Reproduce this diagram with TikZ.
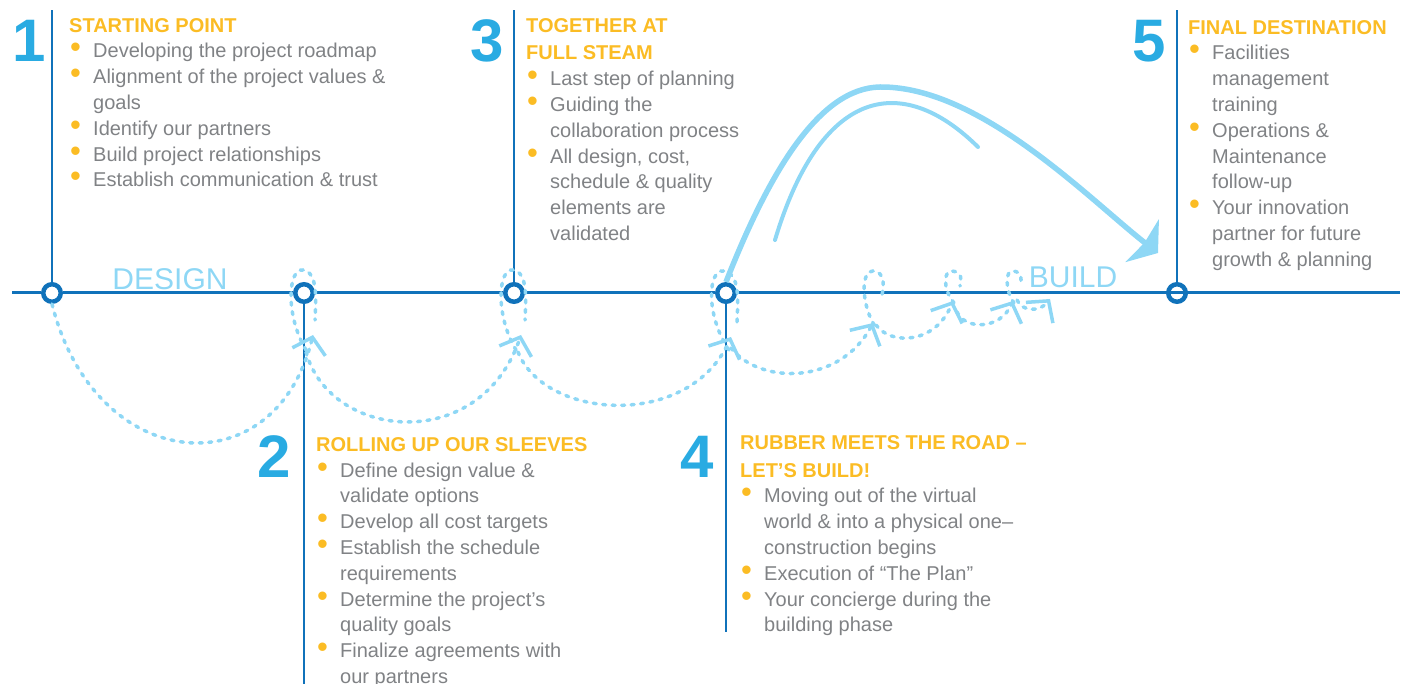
\documentclass[tikz,border=0pt]{standalone}
\usepackage{fontspec}
\setmainfont{Liberation Sans}
\usepackage{tikz}
\usetikzlibrary{arrows.meta}
\usepackage{xcolor}

\definecolor{axisblue}{RGB}{16,114,186}
\definecolor{numblue}{RGB}{41,171,226}
\definecolor{dotyel}{RGB}{251,188,36}
\definecolor{txtgray}{RGB}{128,130,133}
\definecolor{pathblue}{RGB}{142,215,245}

\newcommand{\bul}{\makebox[24pt][l]{\hspace{1pt}\smash{\color{dotyel}\fontsize{31}{0}\selectfont\textbullet}}}
\newcommand{\ind}{\hspace*{24pt}}
\newcommand{\hd}[1]{\rule{0pt}{16pt}{\bfseries\color{dotyel}#1}}

\tikzset{
 stop/.style={circle,draw=axisblue,fill=white,line width=4.5pt,minimum size=17.5pt,inner sep=0pt},
 stem/.style={axisblue,line width=2.5pt},
 num/.style={anchor=base,text=numblue,font=\fontsize{60}{60}\selectfont\bfseries,inner sep=0pt},
 block/.style={anchor=north west,align=left,inner sep=0pt,text=txtgray,font=\fontsize{20}{25.8}\selectfont},
 phaselabel/.style={anchor=base,text=pathblue,font=\fontsize{30}{30}\selectfont,inner sep=0pt},
 trail/.style={pathblue,line width=3.5pt,line cap=round,dash pattern=on 3pt off 6.5pt},
 chev/.style={-{Straight Barb[length=15pt,width=34pt,line width=3.5pt]}}
}

\begin{document}
\begin{tikzpicture}[x=1pt,y=-1pt]
 \useasboundingbox (0,0) rectangle (1406,684);

 % stops on the time line
 \node[stop] (s1) at (52,293) {};
 \node[stop] (s2) at (304,293) {};
 \node[stop] (s3) at (514,293) {};
 \node[stop] (s4) at (726,293) {};
 \node[stop,fill=none] (s5) at (1177,293) {};

 \coordinate (ax0) at (12,293);
 \coordinate (ax1) at (1400,293);
 \draw[stem,line width=3pt] (ax0)--(s1);
 \draw[stem,line width=3pt] (s1)--(s2);
 \draw[stem,line width=3pt] (s2)--(s3);
 \draw[stem,line width=3pt] (s3)--(s4);
 \draw[stem,line width=3pt] (s4)--(ax1);

 \coordinate (t1) at (52,10);
 \coordinate (t2) at (304,684);
 \coordinate (t3) at (514,10);
 \coordinate (t4) at (726,632);
 \coordinate (t5) at (1177,10);
 \draw[stem] (s1.north)--(t1);
 \draw[stem] (s2.south)--(t2);
 \draw[stem] (s3.north)--(t3);
 \draw[stem] (s4.south)--(t4);
 \draw[stem] (s5.north)--(t5);

 % numbers
 \node[num] (n1) at (29,62) {1};
 \node[num] (n2) at (274,478) {2};
 \node[num] (n3) at (487,62) {3};
 \node[num] (n4) at (697,477) {4};
 \node[num] (n5) at (1149,62) {5};

 % texts
 \node[block] (b1) at (69,16) {\hd{STARTING POINT}\\
  \bul Developing the project roadmap\\
  \bul Alignment of the project values \&\\
  \ind goals\\
  \bul Identify our partners\\
  \bul Build project relationships\\
  \bul Establish communication \& trust};

 \node[block] (b2) at (316,435) {\hd{ROLLING UP OUR SLEEVES}\\
  \bul Define design value \&\\
  \ind validate options\\
  \bul Develop all cost targets\\
  \bul Establish the schedule\\
  \ind requirements\\
  \bul Determine the project’s\\
  \ind quality goals\\
  \bul Finalize agreements with\\
  \ind our partners};

 \node[block] (b3) at (526,16) {\hd{TOGETHER AT}\\[2pt]
  \hd{FULL STEAM}\\
  \bul Last step of planning\\
  \bul Guiding the\\
  \ind collaboration process\\
  \bul All design, cost,\\
  \ind schedule \& quality\\
  \ind elements are\\
  \ind validated};

 \node[block] (b4) at (740,433) {\hd{RUBBER MEETS THE ROAD –}\\[2pt]
  \hd{LET’S BUILD!}\\
  \bul Moving out of the virtual\\
  \ind world \& into a physical one–\\
  \ind construction begins\\
  \bul Execution of “The Plan”\\
  \bul Your concierge during the\\
  \ind building phase};

 \node[block] (b5) at (1188,18) {\hd{FINAL DESTINATION}\\
  \bul Facilities\\
  \ind management\\
  \ind training\\
  \bul Operations \&\\
  \ind Maintenance\\
  \ind follow-up\\
  \bul Your innovation\\
  \ind partner for future\\
  \ind growth \& planning};

 \node[phaselabel] (design) at (170,290) {DESIGN};
 \node[phaselabel] (build) at (1073,288) {BUILD};

 %%%%%%%%%%%%%%%%%%%%%%%%%%%%%%%%%%%
 % dotted trail with loops
 \draw[trail,chev] (s1.south) .. controls (95,475) and (275,490) .. (313,335);
 \draw[trail] (306,350) .. controls (285,315) and (288,268) .. (303,270) .. controls (318,272) and (316,300) .. (315,320);
 \draw[trail,chev] (306,352) .. controls (330,440) and (480,455) .. (521,335);
 \draw[trail] (516,350) .. controls (495,315) and (498,268) .. (513,270) .. controls (528,272) and (526,300) .. (525,320);
 \draw[trail,chev] (518,352) .. controls (545,420) and (690,430) .. (731,337);
 \draw[trail] (729,350) .. controls (705,315) and (708,268) .. (724,271) .. controls (740,274) and (738,300) .. (737,322);
 \draw[trail,chev] (731,348) .. controls (760,385) and (840,385) .. (873,323);
 \draw[trail] (874,325) .. controls (860,300) and (862,270) .. (873,271) .. controls (885,272) and (884,285) .. (882,295);
 \draw[trail,chev] (876,325) .. controls (890,345) and (935,345) .. (953,301);
 \draw[trail] (954,303) .. controls (942,288) and (944,270) .. (952,271) .. controls (962,272) and (962,280) .. (960,286);
 \draw[trail,chev] (957,312) .. controls (965,330) and (1000,330) .. (1013,301);
 \draw[trail] (1014,303) .. controls (1005,290) and (1005,270) .. (1013,271) .. controls (1022,272) and (1022,278) .. (1020,284);
 \draw[trail,chev] (1017,300) .. controls (1022,312) and (1040,312) .. (1050,299);

 % big jump to the last stop
 \draw[pathblue,line width=5.5pt,-{Stealth[length=20pt,width=54pt,inset=3pt]}] (s4.north) .. controls (770,170) and (820,88) .. (880,87) .. controls (980,86) and (1090,200) .. (1158,253);
 \draw[pathblue,line width=4pt,line cap=round] (775,240) .. controls (820,90) and (900,70) .. (978,147);
\end{tikzpicture}
\end{document}
